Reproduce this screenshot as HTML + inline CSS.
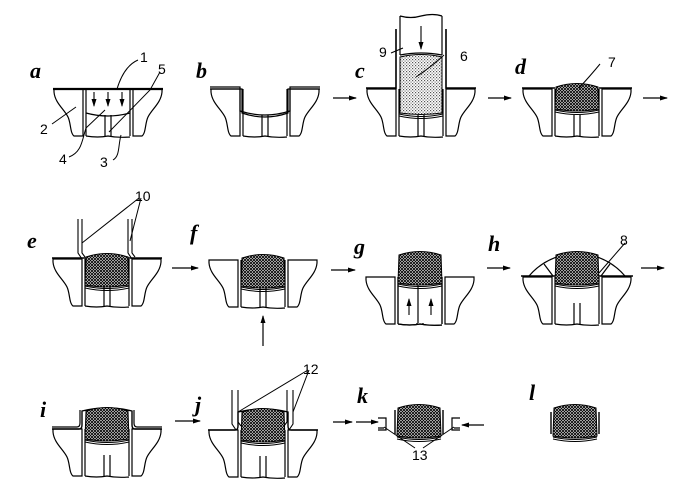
<!DOCTYPE html>
<html><head><meta charset="utf-8"><style>
html,body{margin:0;padding:0;background:#fff;}
svg{display:block}
.lb{font-family:"Liberation Serif",serif;font-weight:bold;font-style:italic;font-size:22px;}
.n{font-family:"Liberation Sans",sans-serif;font-size:14px;}
</style></head><body>
<svg width="678" height="481" viewBox="0 0 678 481" xmlns="http://www.w3.org/2000/svg">
<defs>
<pattern id="hx" width="3" height="3" patternUnits="userSpaceOnUse">
<rect width="3" height="3" fill="#fff"/>
<path d="M0,0L3,3M3,0L0,3" stroke="#000" stroke-width="0.9"/>
</pattern>
<pattern id="st" width="3" height="3" patternUnits="userSpaceOnUse">
<rect width="3" height="3" fill="#fff"/>
<rect x="0" y="0" width="1.2" height="1.2" fill="#555"/>
<rect x="1.5" y="1.5" width="1.2" height="1.2" fill="#777"/>
</pattern>
<marker id="ah" markerWidth="8" markerHeight="6" refX="7" refY="3" orient="auto" markerUnits="userSpaceOnUse">
<path d="M0,0.5L8,3L0,5.5Z" fill="#000"/>
</marker>
<g id="die" fill="#fff" stroke="#000" stroke-width="1.2">
<path d="M-54,0L-25,0L-25,47L-34,47C-38,44 -37,34 -40,28C-44,20 -53,14 -54,3Z"/>
<path d="M54,0L25,0L25,47L34,47C38,44 37,34 40,28C44,20 53,14 54,3Z"/>
<path d="M-22,0L-22,47M22,0L22,47" fill="none"/>
<path d="M-22,47Q-10,49 0,47Q10,49 22,48" fill="none"/>
<path d="M-3,26L-3,47M3,26L3,47" fill="none"/>
</g>
<g id="cush">
<path d="M-21,-2Q0,-9 21,-2L22,26Q0,30 -22,26Z" fill="url(#hx)" stroke="#000" stroke-width="1"/>
<path d="M-22,27Q0,32 22,27M-22,29Q0,34 22,29" fill="none" stroke="#000" stroke-width="1"/>
</g>
</defs>

<text class="lb" x="30" y="78">a</text>
<text class="lb" x="196" y="78">b</text>
<text class="lb" x="355" y="78">c</text>
<text class="lb" x="515" y="74">d</text>
<text class="lb" x="27" y="248">e</text>
<text class="lb" x="190" y="240">f</text>
<text class="lb" x="354" y="254">g</text>
<text class="lb" x="488" y="251">h</text>
<text class="lb" x="40" y="417">i</text>
<text class="lb" x="195" y="412">j</text>
<text class="lb" x="357" y="403">k</text>
<text class="lb" x="529" y="400">l</text>

<g stroke="#000" stroke-width="1.2" marker-end="url(#ah)">
<line x1="333" y1="98" x2="356" y2="98"/>
<line x1="488" y1="98" x2="511" y2="98"/>
<line x1="643" y1="98" x2="667" y2="98"/>
<line x1="172" y1="268" x2="198" y2="268"/>
<line x1="331" y1="270" x2="355" y2="270"/>
<line x1="487" y1="268" x2="510" y2="268"/>
<line x1="641" y1="268" x2="664" y2="268"/>
<line x1="175" y1="421" x2="200" y2="421"/>
<line x1="333" y1="422" x2="352" y2="422"/>
<line x1="356" y1="422" x2="378" y2="422"/>
<line x1="484" y1="425" x2="462" y2="425"/>
<line x1="263" y1="346" x2="263" y2="316"/>
</g>

<!-- a -->
<g transform="translate(108,89)">
<use href="#die"/>
<path d="M-22,24Q0,30 22,24" fill="none" stroke="#000" stroke-width="1.2"/>
<line x1="-55" y1="0" x2="55" y2="0" stroke="#000" stroke-width="2.2"/>
<g stroke="#000" stroke-width="1.1" marker-end="url(#ah)">
<line x1="-14" y1="3" x2="-14" y2="17"/><line x1="0" y1="3" x2="0" y2="17"/><line x1="14" y1="3" x2="14" y2="17"/>
</g>
</g>
<path d="M117,89Q124,66 138,60M52,124L76,107M69,157C82,152 82,140 86,128L105,110M113,160C120,156 118,146 121,135M109,132L150,90L160,72" fill="none" stroke="#000" stroke-width="1"/>
<text class="n" x="140" y="62">1</text>
<text class="n" x="40" y="134">2</text>
<text class="n" x="100" y="167">3</text>
<text class="n" x="59" y="164">4</text>
<text class="n" x="158" y="74">5</text>

<!-- b -->
<g transform="translate(265,89)">
<use href="#die"/>
<path d="M-55,0L-23,0L-23,24Q0,32 23,24L23,0L55,0" fill="none" stroke="#000" stroke-width="1.2"/>
<path d="M-55,-2L-25,-2L-25,22Q0,30 25,22L25,-2L55,-2" fill="none" stroke="#000" stroke-width="1.2"/>
</g>

<!-- c -->
<g transform="translate(421,89)">
<use href="#die"/>
<path d="M-55,-1L-25,-1L-25,-60M55,-1L25,-1L25,-60" fill="none" stroke="#000" stroke-width="1.6"/>
<path d="M-21,-73L-21,-34M21,-73L21,-34M-21,-73Q-10,-70 0,-73Q12,-76 21,-73" fill="none" stroke="#000" stroke-width="1.2"/>
<path d="M-21,-34Q0,-38 21,-34" fill="none" stroke="#000" stroke-width="1.2"/>
<path d="M-21,-32Q0,-37 21,-32L21,24Q0,27 -21,24Z" fill="url(#st)" stroke="#000" stroke-width="1"/>
<path d="M-22,25Q0,30 22,25M-22,27Q0,32 22,27" fill="none" stroke="#000" stroke-width="1"/>
<line x1="0" y1="-63" x2="0" y2="-40" stroke="#000" stroke-width="1.1" marker-end="url(#ah)"/>
<path d="M-30,-36L-18,-41M-5,-12Q10,-22 23,-34" fill="none" stroke="#000" stroke-width="1"/>
</g>
<text class="n" x="379" y="57">9</text>
<text class="n" x="460" y="61">6</text>

<!-- d -->
<g transform="translate(577,89)">
<use href="#die"/>
<line x1="-55" y1="-1" x2="-22" y2="-1" stroke="#000" stroke-width="1.6"/>
<line x1="22" y1="-1" x2="55" y2="-1" stroke="#000" stroke-width="1.6"/>
<path d="M-21,-2Q0,-9 21,-2L22,20Q0,24 -22,20Z" fill="url(#hx)" stroke="#000" stroke-width="1"/>
<path d="M-22,21Q0,26 22,21M-22,23Q0,28 22,23" fill="none" stroke="#000" stroke-width="1"/>
<path d="M2,-1Q14,-14 23,-25" fill="none" stroke="#000" stroke-width="1"/>
</g>
<text class="n" x="608" y="67">7</text>

<!-- e -->
<g transform="translate(107,259)">
<use href="#die"/>
<line x1="-55" y1="-1" x2="55" y2="-1" stroke="#000" stroke-width="1.6"/>
<use href="#cush"/>
<path d="M-29,-40L-29,-6L-25,0M-25,-40L-25,-6L-22,-2M21,-40L21,-6L25,0M25,-40L25,-6L28,-2" fill="none" stroke="#000" stroke-width="1.1"/>
<path d="M-25,-16L32,-61M23,-18L34,-61" fill="none" stroke="#000" stroke-width="1"/>
</g>
<text class="n" x="135" y="201">10</text>

<!-- f -->
<g transform="translate(263,260)">
<use href="#die"/>
<use href="#cush"/>
</g>

<!-- g -->
<g transform="translate(420,277)">
<use href="#die"/>
<rect x="-21" y="-3" width="42" height="49" fill="#fff" stroke="none"/>
<path d="M-22,0L-22,47M22,0L22,47M-22,47Q-10,49 0,47Q10,49 22,48M-2,3L-2,46" fill="none" stroke="#000" stroke-width="1.2"/>
<g transform="translate(0,-20)"><use href="#cush"/></g>
<g stroke="#000" stroke-width="1.1" marker-end="url(#ah)">
<line x1="-11" y1="38" x2="-11" y2="22"/><line x1="11" y1="38" x2="11" y2="22"/>
</g>
</g>

<!-- h -->
<g transform="translate(577,277)">
<use href="#die"/>
<line x1="-56" y1="-1" x2="56" y2="-1" stroke="#000" stroke-width="1.6"/>
<path d="M-48,-1Q-30,-22 0,-24Q30,-22 48,-1" fill="none" stroke="#000" stroke-width="1.2"/>
<g transform="translate(0,-20)"><use href="#cush"/></g>
<path d="M-33,-13L-24,-1M33,-13L24,-1" fill="none" stroke="#000" stroke-width="1.2"/>
<path d="M22,-4L48,-34" fill="none" stroke="#000" stroke-width="1"/>
</g>
<text class="n" x="620" y="245">8</text>

<!-- i -->
<g transform="translate(107,429)">
<use href="#die"/>
<path d="M-55,0L-28,0Q-25,0 -25,-4L-25,-18Q0,-24 25,-18L25,-4Q25,0 28,0L55,0" fill="none" stroke="#000" stroke-width="1.4"/>
<path d="M-55,-2L-30,-2Q-27,-2 -27,-6L-27,-19" fill="none" stroke="#000" stroke-width="1.2"/>
<path d="M55,-2L30,-2Q27,-2 27,-6L27,-19" fill="none" stroke="#000" stroke-width="1.2"/>
<g transform="translate(0,-16)"><use href="#cush"/></g>
</g>

<!-- j -->
<g transform="translate(263,430)">
<use href="#die"/>
<path d="M-55,0L-28,0Q-25,0 -25,-4L-25,-18Q0,-24 25,-18L25,-4Q25,0 28,0L55,0" fill="none" stroke="#000" stroke-width="1.4"/>
<g transform="translate(0,-16)"><use href="#cush"/></g>
<path d="M-31,-40L-31,-6L-27,0M-25,-40L-25,-8L-22,-4M24,-40L24,-8L21,-4M30,-40L30,-6L26,0" fill="none" stroke="#000" stroke-width="1.1"/>
<path d="M-25,-18L45,-60M30,-18L46,-60" fill="none" stroke="#000" stroke-width="1"/>
</g>
<text class="n" x="303" y="374">12</text>

<!-- k -->
<g transform="translate(419,424)">
<g transform="translate(0,-14)"><use href="#cush"/></g>
<path d="M-24,-14L-24,10M24,-14L24,10" stroke="#000" stroke-width="1.4"/>
<path d="M-41,-6L-33,-6L-33,6L-41,6M-41,4L-35,4M41,-6L33,-6L33,6L41,6M41,4L35,4" fill="none" stroke="#000" stroke-width="1.2"/>
<path d="M-35,3L-4,24M35,3L4,24" fill="none" stroke="#000" stroke-width="1"/>
</g>
<text class="n" x="412" y="460">13</text>

<!-- l -->
<g transform="translate(575,424)">
<g transform="translate(0,-14)"><use href="#cush"/></g>
<path d="M-24,-12L-24,10M24,-12L24,10" stroke="#000" stroke-width="1.4"/>
</g>
</svg>
</body></html>
